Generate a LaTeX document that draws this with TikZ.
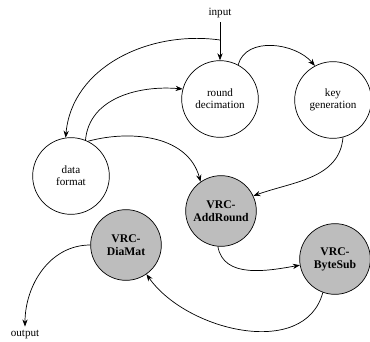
\documentclass[tikz,border=0pt]{standalone}
\usepackage{fontspec}
\setmainfont{Liberation Serif}
\usepackage{tikz}
\usetikzlibrary{arrows.meta, positioning}
\definecolor{vgray}{HTML}{BDBDBD}

\begin{document}
\begin{tikzpicture}[
    every node/.style={font=\fontsize{9.5}{10.5}\selectfont},
    arr/.style={-{Stealth[length=6pt, width=4.5pt]}, semithick},
    stage/.style={circle, draw, semithick, align=center, inner sep=0pt, minimum size=2.3cm},
    vrc/.style={stage, fill=vgray, minimum size=2.12cm, font=\fontsize{10}{11}\selectfont\bfseries},
    x=0.03cm, y=-0.03cm
  ]
  \useasboundingbox (0,0) rectangle (370,342);

  \node (input) at (220, 13) {input};
  \node[stage] (rd) at (220, 99) {round\\decimation};
  \node[stage] (kg) at (333, 100) {key\\generation};
  \node[stage] (df) at (71, 176) {data\\format};
  \node[vrc] (ar) at (221, 211) {VRC-\\AddRound};
  \node[vrc] (bs) at (335, 259) {VRC-\\ByteSub};
  \node[vrc] (dm) at (126, 245) {VRC-\\DiaMat};
  \node (output) at (25, 335) {output};
  \coordinate (split) at (220, 40);

  \draw[arr] (input) -- (rd);
  \draw[arr] (split) to[out=172, in=85] (df.98);
  \draw[arr] (df.68) to[out=85, in=175] (rd.165);
  \draw[arr] (df.64) to[out=15, in=105] (ar.125);
  \draw[arr] (rd.62) to[out=75, in=130] (kg.118);
  \draw[arr] (kg.-75) to[out=-95, in=20] (ar.25);
  \draw[arr] (ar.-95) to[out=-80, in=190] (bs.190);
  \draw[arr] (bs.-110) to[out=-105, in=-55] (dm.-55);
  \draw[arr] (dm.west) to[out=180, in=90] (output.north);

\end{tikzpicture}
\end{document}
